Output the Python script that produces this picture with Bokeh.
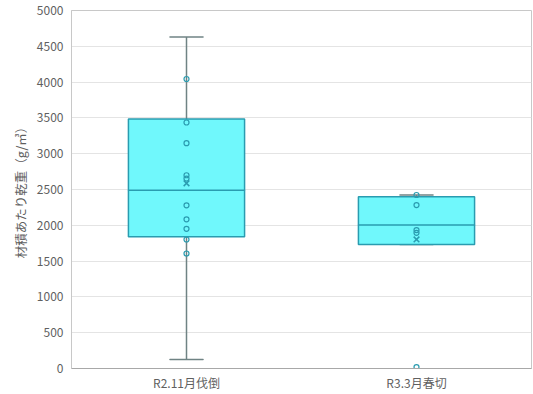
from bokeh.plotting import figure
from bokeh.models import ColumnDataSource, FixedTicker, Range1d, FactorRange
from bokeh.embed import file_html
from bokeh.resources import INLINE

# Box-plot summaries per group (g per m3 of timber)
groups = ["R2.11月伐倒", "R3.3月春切"]
q1 = [1839, 1732]
median = [2489, 2003]
q3 = [3483, 2399]
whisker_low = [126, 1732]
whisker_high = [4630, 2423]
means = [2587, 1802]

# Individual measurements drawn inside each box
points_g1 = [4043, 3436, 3147, 2699, 2652, 2279, 2083, 1951, 1802, 1606]
points_g2 = [2423, 2283, 1933, 1895]
outliers_g2 = [20]

y_ticks = list(range(0, 5001, 500))

FONT = "Noto Sans CJK JP"
TEXT_COLOR = "#5f5f5f"
FILL = "#70f8fc"
EDGE = "#2a9cb0"
WHISKER = "#6f8384"

p = figure(width=533, height=394, x_range=FactorRange(*groups, range_padding=0),
           y_range=Range1d(0, 5000), output_backend="svg", toolbar_location=None,
           min_border_left=71, min_border_right=2, min_border_top=10, min_border_bottom=26)

p.outline_line_color = "#c8c8c8"
p.outline_line_width = 1
p.background_fill_color = "white"
p.border_fill_color = "white"

p.xgrid.grid_line_color = None
p.ygrid.grid_line_color = "#e4e4e4"
p.ygrid.grid_line_width = 1

p.yaxis.ticker = FixedTicker(ticks=y_ticks)
p.yaxis.axis_line_color = "#c8c8c8"
p.yaxis.major_tick_line_color = None
p.yaxis.minor_tick_line_color = None
p.yaxis.major_tick_out = 0
p.yaxis.minor_tick_out = 0
p.yaxis.major_label_standoff = 8
p.yaxis.major_label_text_font = FONT
p.yaxis.major_label_text_font_size = "12px"
p.yaxis.major_label_text_color = TEXT_COLOR
p.yaxis.axis_label = "材積あたり乾重（g/㎥）"
p.yaxis.axis_label_text_font = FONT
p.yaxis.axis_label_text_font_size = "12.5px"
p.yaxis.axis_label_text_font_style = "normal"
p.yaxis.axis_label_text_color = TEXT_COLOR
p.yaxis.axis_label_standoff = 4

p.xaxis.axis_line_color = "#a8a8a8"
p.xaxis.major_tick_line_color = None
p.xaxis.minor_tick_line_color = None
p.xaxis.major_tick_out = 0
p.xaxis.minor_tick_out = 0
p.xaxis.major_label_standoff = 5
p.xaxis.major_label_text_font = FONT
p.xaxis.major_label_text_font_size = "12px"
p.xaxis.major_label_text_color = TEXT_COLOR

src = ColumnDataSource(dict(g=groups, q1=q1, med=median, q3=q3,
                            lo=whisker_low, hi=whisker_high, mean=means))

# Whisker stems and caps
p.segment(x0="g", y0="q3", x1="g", y1="hi", source=src, line_color=WHISKER, line_width=1.5)
p.segment(x0="g", y0="lo", x1="g", y1="q1", source=src, line_color=WHISKER, line_width=1.5)
p.rect(x="g", y="hi", width=0.145, height=0.01, height_units="data", source=src,
       fill_alpha=0, line_color=WHISKER, line_width=1.5)
p.rect(x="g", y="lo", width=0.145, height=0.01, height_units="data", source=src,
       fill_alpha=0, line_color=WHISKER, line_width=1.5)

# Boxes split at the median
p.vbar(x="g", bottom="q1", top="q3", width=0.505, source=src,
       fill_color=FILL, line_color=EDGE, line_width=1.5)
p.rect(x="g", y="med", width=0.505, height=0.01, height_units="data", source=src,
       fill_alpha=0, line_color=EDGE, line_width=1.5)

# Inner points and outliers
pts_x = [groups[0]] * len(points_g1) + [groups[1]] * (len(points_g2) + len(outliers_g2))
pts_y = points_g1 + points_g2 + outliers_g2
p.scatter(x=pts_x, y=pts_y, marker="circle", size=5, fill_alpha=0,
          line_color=EDGE, line_width=1.2)

# Means
p.scatter(x="g", y="mean", source=src, marker="x", size=8, line_color=EDGE, line_width=1.5)

open("out.html", "w").write(file_html(p, INLINE))
